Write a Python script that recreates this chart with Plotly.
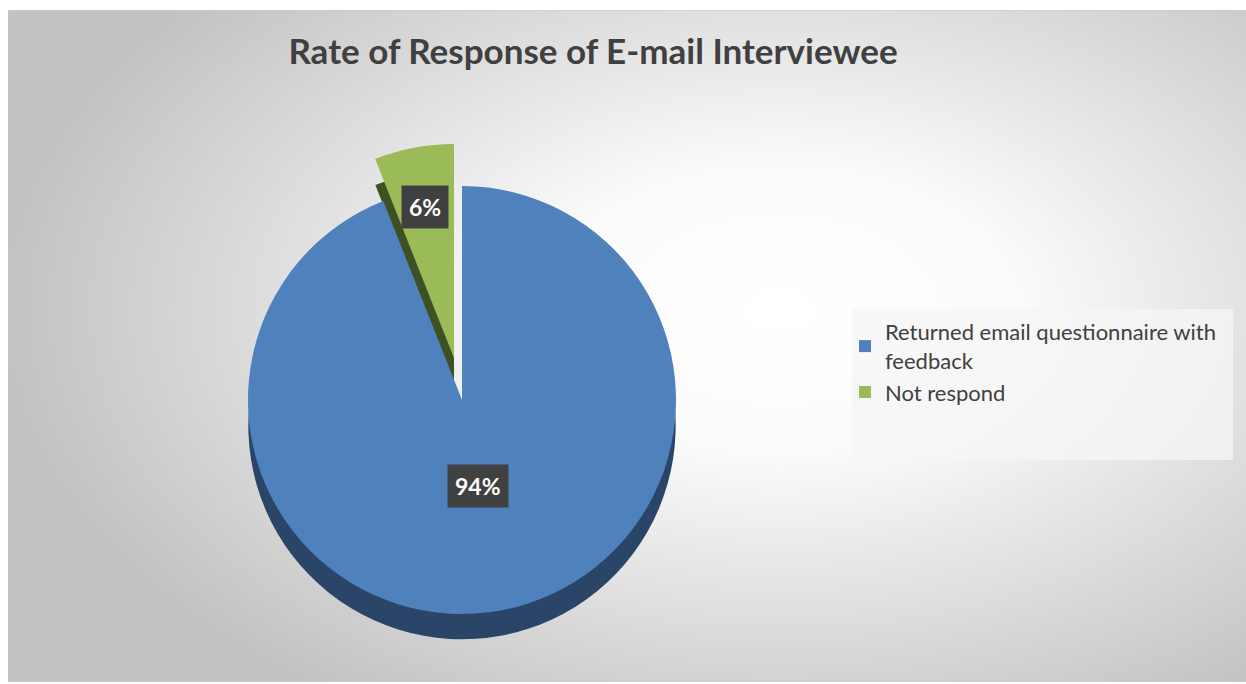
import math
import plotly.graph_objects as go

# ---- data ----
labels = ["Returned email questionnaire with<br>feedback", "Not respond"]
values = [94, 6]
pct_text = ["94%", "6%"]
top_colors = ["#4f81bd", "#9bbb59"]
side_colors = ["#2a4567", "#3f5124"]
pulls = [0, 0.2]
title_text = "Rate of Response of E-mail Interviewee"

W, H = 1246, 684
ML, MR, MT, MB = 8, 0, 10, 2
PW, PH = W - ML - MR, H - MT - MB

# pie geometry (pixels)
CX, CY, R = 462, 400, 214
DEPTH = 26
maxpull = max(pulls)
half = R * (1 + maxpull)


def dom(cx, cy):
    return dict(
        x=[max(0, (cx - half - ML) / PW), min(1, (cx + half - ML) / PW)],
        y=[max(0, 1 - (cy + half - MT) / PH), min(1, 1 - (cy - half - MT) / PH)],
    )


fig = go.Figure()

# background radial gradient
gx0, gx1, gy0, gy1 = 0, 1560, -160, 780
fig.add_trace(go.Scatter(
    x=[gx0, gx1, gx1, gx0, gx0], y=[gy0, gy0, gy1, gy1, gy0],
    mode="lines", line=dict(width=0), fill="toself",
    fillgradient=dict(type="radial",
                      colorscale=[[0, "#ffffff"], [0.3, "#fbfbfb"], [1, "#c2c2c2"]]),
    hoverinfo="skip", showlegend=False,
))

# shadow / depth pie
fig.add_trace(go.Pie(
    labels=labels, values=values, sort=False, direction="clockwise", rotation=0,
    pull=pulls, marker=dict(colors=side_colors, line=dict(width=0)),
    textinfo="none", domain=dom(CX, CY + DEPTH), showlegend=False, hoverinfo="skip",
))
# top pie
fig.add_trace(go.Pie(
    labels=labels, values=values, sort=False, direction="clockwise", rotation=0,
    pull=pulls, marker=dict(colors=top_colors, line=dict(width=0)),
    textinfo="none", domain=dom(CX, CY), showlegend=True, hoverinfo="label+percent",
))

# labels positioned from slice geometry
total = sum(values)
cum = 0
label_r = [0.41, 0.72]
annotations = []
for v, t, p, lr in zip(values, pct_text, pulls, label_r):
    mid = (cum + v / 2) / total * 2 * math.pi
    cum += v
    dx, dy = math.sin(mid), -math.cos(mid)
    ox, oy = CX + dx * p * R, CY + dy * p * R
    annotations.append(dict(
        x=ox + dx * lr * R, y=oy + dy * lr * R, xref="x", yref="y",
        text="<b>%s</b>" % t, showarrow=False,
        font=dict(family="Lato, Open Sans, sans-serif", size=23, color="#ffffff"),
        bgcolor="#404040", borderpad=7,
    ))

fig.update_layout(
    width=W, height=H,
    margin=dict(l=ML, r=MR, t=MT, b=MB),
    paper_bgcolor="#ffffff", plot_bgcolor="#ffffff",
    xaxis=dict(range=[ML, W - MR], visible=False, fixedrange=True),
    yaxis=dict(range=[H - MB, MT], visible=False, fixedrange=True),
    title=dict(text="<b>%s</b>" % title_text, x=(593 - ML) / PW, xref="paper",
               xanchor="center", y=1 - 52 / H, yref="container", yanchor="middle",
               font=dict(family="Lato, Open Sans, sans-serif", size=35, color="#404040")),
    legend=dict(x=(845 - ML) / PW, y=1 - (311 - MT) / PH, xanchor="left", yanchor="top",
                bgcolor="rgba(0,0,0,0)", font=dict(family="Lato, Open Sans, sans-serif",
                                                   size=22, color="#404040"),
                traceorder="normal"),
    shapes=[
        dict(type="rect", xref="x", yref="y", x0=852, x1=1233, y0=309, y1=460,
             fillcolor="rgba(245,245,245,0.75)", line=dict(width=0), layer="above"),
        dict(type="rect", xref="x", yref="y", x0=ML, x1=W + 5, y0=MT, y1=H - MB,
             fillcolor="rgba(0,0,0,0)", line=dict(width=1, color="#c8c8c8"), layer="above"),
    ],
    annotations=annotations,
)

fig.write_html("out.html")
